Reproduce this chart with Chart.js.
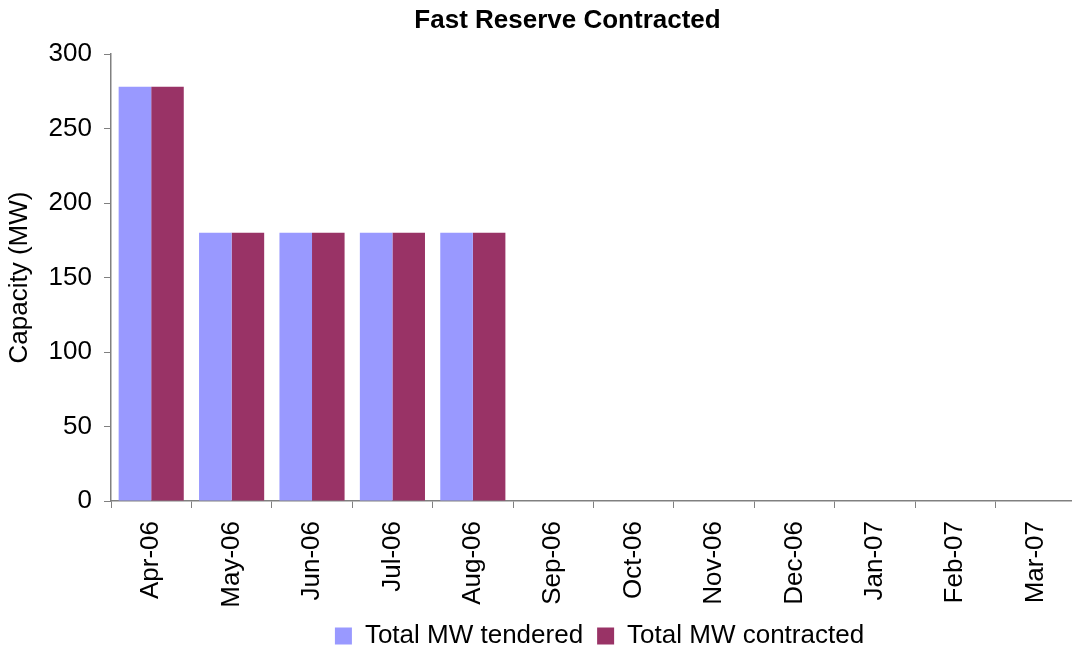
<!DOCTYPE html>
<html>
<head>
<meta charset="utf-8">
<script src="https://cdn.jsdelivr.net/npm/chart.js@4.4.0/dist/chart.umd.min.js"></script>
<style>
  html, body { margin: 0; padding: 0; background: #fff; overflow: hidden; }
  #wrap { width: 1072px; height: 648px; overflow: hidden; }
</style>
</head>
<body>
<div id="wrap"><canvas id="myChart" width="1080" height="648"></canvas></div>
<script>
const months = ["Apr-06", "May-06", "Jun-06", "Jul-06", "Aug-06", "Sep-06",
                "Oct-06", "Nov-06", "Dec-06", "Jan-07", "Feb-07", "Mar-07"];
const tendered = [278, 180, 180, 180, 180, 0, 0, 0, 0, 0, 0, 0];
const contracted = [278, 180, 180, 180, 180, 0, 0, 0, 0, 0, 0, 0];
const yTicks = [0, 50, 100, 150, 200, 250, 300];

const FONT = "'Liberation Sans', Arial, sans-serif";
const AXIS = "#808080";

// nudge title and legend like in the original sheet
const shiftPlugin = {
  id: "shift",
  afterLayout(chart) {
    if (chart.titleBlock) { chart.titleBlock.left += 29; chart.titleBlock.right += 29; }
    const lg = chart.legend;
    if (lg) {
      lg.left += 61; lg.right += 61;
      const dy = 634 - (lg.top + 14 + 11);
      lg.top += dy; lg.bottom += dy;
    }
  }
};

new Chart(document.getElementById("myChart"), {
  type: "bar",
  data: {
    labels: months,
    datasets: [
      { label: "Total MW tendered", data: tendered, backgroundColor: "#9999FF", borderWidth: 0 },
      { label: "Total MW contracted", data: contracted, backgroundColor: "#993366", borderWidth: 0 }
    ]
  },
  options: {
    responsive: false,
    animation: false,
    devicePixelRatio: 1,
    categoryPercentage: 0.81,
    barPercentage: 1.0,
    layout: { padding: { left: 0, right: 3, top: 0, bottom: -11 } },
    plugins: {
      title: {
        display: true,
        text: "Fast Reserve Contracted",
        color: "#000",
        font: { family: FONT, size: 26, weight: "bold" },
        padding: { top: 5, bottom: 17.8 }
      },
      legend: {
        position: "bottom",
        labels: {
          color: "#000",
          font: { family: FONT, size: 26 },
          boxWidth: 17,
          boxHeight: 17,
          padding: 14
        }
      },
      tooltip: { enabled: false }
    },
    scales: {
      x: {
        grid: { offset: true, drawOnChartArea: false, drawTicks: true, tickLength: 7, color: AXIS },
        border: { color: AXIS, width: 1.5 },
        ticks: { color: "#000", font: { family: FONT, size: 26 }, maxRotation: 90, minRotation: 90, padding: 13 },
        afterFit(s) { s.height = 108; }
      },
      y: {
        min: 0,
        max: 300,
        afterBuildTicks(s) { s.ticks = yTicks.map(v => ({ value: v })); },
        grid: { drawOnChartArea: false, drawTicks: true, tickLength: 7, color: AXIS },
        border: { color: AXIS, width: 1.5 },
        ticks: { color: "#000", font: { family: FONT, size: 26 }, padding: 12 },
        title: {
          display: true,
          text: "Capacity (MW)",
          color: "#000",
          font: { family: FONT, size: 26 },
          padding: { top: 4, bottom: 0 }
        },
        afterFit(s) { s.width = 111; }
      }
    }
  },
  plugins: [shiftPlugin]
});
</script>
</body>
</html>
